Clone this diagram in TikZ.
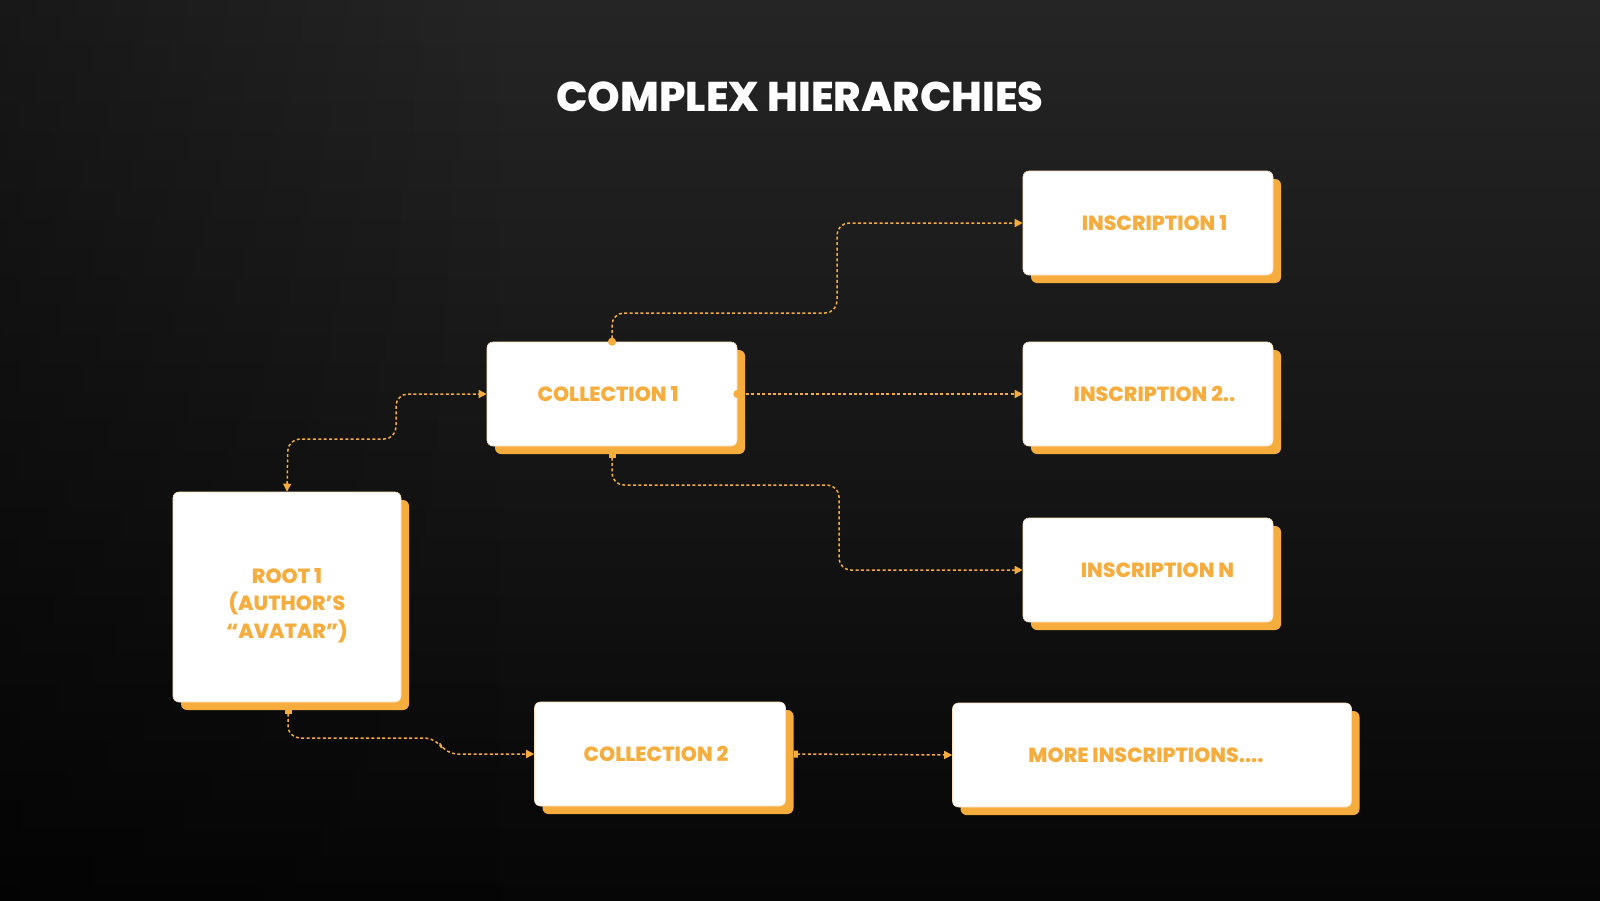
\documentclass[tikz,border=0pt]{standalone}
\usepackage{fontspec}
\setmainfont{Poppins}
\IfFontExistsTF{Poppins ExtraBold}{%
  \newfontfamily\heavyfont{Poppins ExtraBold}%
  \newcommand\boxfontsize{\fontsize{20.5}{27.5}\selectfont}%
  \newcommand\titlefontsize{\fontsize{41.5}{46}\selectfont}%
}{%
  \newcommand\heavyfont{\bfseries}%
  \newcommand\boxfontsize{\fontsize{21}{27.5}\selectfont}%
  \newcommand\titlefontsize{\fontsize{42.5}{46}\selectfont}%
}
\usetikzlibrary{arrows.meta,shadows,fadings}
\definecolor{boxorange}{HTML}{F6AD3E}
\definecolor{bgtop}{HTML}{252525}
\definecolor{bgmid}{HTML}{141414}
\definecolor{bgbot}{HTML}{060606}
\tikzset{
  card/.style={rectangle, rounded corners=6pt, fill=white, draw=boxorange!35, line width=0.6pt,
    general shadow={fill=boxorange, shadow xshift=8pt, shadow yshift=-8pt},
    text=boxorange, font=\heavyfont\boxfontsize, align=center, inner sep=0pt},
  link/.style={draw=boxorange, line width=1.5pt, dash pattern=on 3pt off 2.4pt, rounded corners=12pt,
    -{Triangle[length=8pt,width=8pt]}},
  startdot/.style={{Circle[length=8pt,width=8pt]}-{Triangle[length=8pt,width=8pt]}, shorten <=-4pt},
  startsq/.style={{Square[length=4pt,width=7pt]}-{Triangle[length=8pt,width=8pt]}}
}
\begin{document}
\begin{tikzpicture}[x=1pt,y=-1pt]
\useasboundingbox (0,0) rectangle (1600,900);
\shade[top color=bgtop, middle color=bgmid, bottom color=bgbot] (0,0) rectangle (1600,900);
\shade[left color=black, right color=black, opacity=0.35, path fading=east] (0,0) rectangle (500,900);

\node[text=white, font=\heavyfont\titlefontsize] (title) at (800,97) {COMPLEX HIERARCHIES};

\node[card, minimum width=250pt, minimum height=104pt] (ins1) at (1148,223) {\hspace*{13pt}INSCRIPTION 1};
\node[card, minimum width=250pt, minimum height=104pt] (ins2) at (1148,394) {\hspace*{13pt}INSCRIPTION 2..};
\node[card, minimum width=250pt, minimum height=104pt] (insN) at (1148,570) {\hspace*{19pt}INSCRIPTION N};
\node[card, minimum width=250pt, minimum height=104pt] (col1) at (612,394) {\hspace*{-8pt}COLLECTION 1};
\node[card, minimum width=228pt, minimum height=210pt] (root) at (287,597)
  {\raisebox{-8pt}[\height][\depth]{\begin{tabular}{@{}c@{}}ROOT 1\\(AUTHOR’S\\“AVATAR”)\end{tabular}}};
\node[card, minimum width=251pt, minimum height=104pt] (col2) at (660,754) {\hspace*{-8pt}COLLECTION 2};
\node[card, minimum width=399pt, minimum height=104pt] (more) at (1152,755) {\hspace*{-12pt}MORE INSCRIPTIONS....};

\coordinate (c1s) at ([yshift=-8pt]col1.south);
\coordinate (rs) at ([yshift=-8pt,xshift=1pt]root.south);
\coordinate (c2e) at ([xshift=8pt]col2.east);

% collection 1 -> inscription 1
\draw[link, startdot] (col1.north) -- (612,313) -- (837,313) -- (837,223) -- (ins1.west);
% collection 1 -> inscription 2
\draw[link, startdot] (col1.east) -- (ins2.west);
% collection 1 -> inscription N
\draw[link, startsq] (c1s) -- (612,485) -- (839,485) -- (839,570) -- (insN.west);
% root <-> collection 1
\draw[link, {Triangle[length=8pt,width=8pt]}-{Triangle[length=8pt,width=8pt]}] (root.north) -- (288,439) -- (396,439) -- (396,394) -- (col1.west);
% root -> collection 2
\draw[link, startsq] (rs) -- (288,738) -- (437,738) -- (445,754) -- (col2.west);
% collection 2 -> more inscriptions
\draw[link, startsq] (c2e) -- (more.west);
\end{tikzpicture}
\end{document}
